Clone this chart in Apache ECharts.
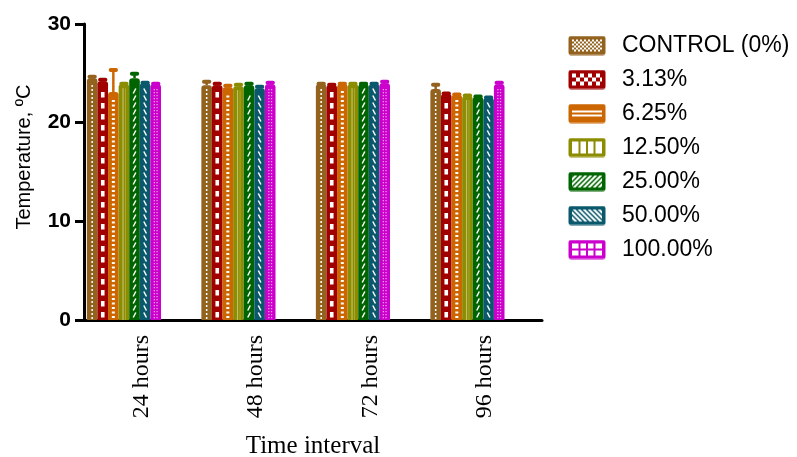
<!DOCTYPE html>
<html>
<head>
<meta charset="utf-8">
<script src="https://cdn.jsdelivr.net/npm/echarts@6.0.0/dist/echarts.min.js"></script>
<style>
html,body{margin:0;padding:0;background:#fff;}
#chart{width:797px;height:457px;}
</style>
</head>
<body>
<div id="chart"></div>
<script>
// ---- data ----
const categories = ['24 hours', '48 hours', '72 hours', '96 hours'];
const seriesNames = ['CONTROL (0%)', '3.13%', '6.25%', '12.50%', '25.00%', '50.00%', '100.00%'];
const meanControl = [24.5, 23.8, 23.9, 23.4];
const mean313 = [24.2, 23.8, 23.8, 22.9];
const mean625 = [23.1, 23.6, 23.9, 22.8];
const mean1250 = [23.9, 23.7, 23.9, 22.7];
const mean25 = [24.5, 23.8, 23.9, 22.6];
const mean50 = [24.0, 23.5, 23.9, 22.5];
const mean100 = [23.9, 23.9, 24.0, 23.9];
const errControl = [0.3, 0.5, 0.2, 0.6];
const err313 = [0.3, 0.3, 0.2, 0.2];
const err625 = [2.4, 0.3, 0.2, 0.2];
const err1250 = [0.2, 0.3, 0.2, 0.2];
const err25 = [0.6, 0.3, 0.2, 0.2];
const err50 = [0.2, 0.3, 0.2, 0.2];
const err100 = [0.2, 0.3, 0.3, 0.3];
const yTicks = [0, 10, 20, 30];

const means = [meanControl, mean313, mean625, mean1250, mean25, mean50, mean100];
const errs = [errControl, err313, err625, err1250, err25, err50, err100];
const colors = ['#93621F', '#A00000', '#CC6600', '#8C8C00', '#006400', '#0A586C', '#CC00CC'];

// ---- legend icons (pattern swatches) ----
function makeIcon(s, color) {
  const W = 49, H = 20;
  const c = document.createElement('canvas');
  c.width = W; c.height = H;
  const g = c.getContext('2d');
  g.fillStyle = color;
  g.beginPath();
  if (g.roundRect) g.roundRect(0.5, 0.5, 37, 19, 2.5); else g.rect(0.5, 0.5, 37, 19);
  g.fill();
  const ix = 4, iy = 4, iw = 30, ih = 12;
  g.save();
  g.beginPath(); g.rect(ix, iy, iw, ih); g.clip();
  g.fillStyle = '#fff'; g.strokeStyle = '#fff';
  if (s === 0) {
    for (let y = iy; y < iy + ih; y += 2) for (let x = ix; x < ix + iw; x += 2)
      if (((x - ix) / 2 + (y - iy) / 2) % 2 === 0) g.fillRect(x, y, 2, 2);
  } else if (s === 1) {
    for (let r = 0; r < 3; r++) for (let k = 0; k < 8; k++)
      if ((r + k) % 2 === 0) g.fillRect(ix + k * 4, iy + r * 4, 4, 4);
  } else if (s === 2) {
    g.fillRect(ix, iy + 3, iw, 2);
    g.fillRect(ix, iy + 7, iw, 2);
  } else if (s === 3) {
    g.fillRect(ix, iy, iw, ih);
    g.fillStyle = color;
    for (let k = 1; k < 4; k++) g.fillRect(ix + k * 7.5 - 1, iy, 2, ih);
  } else if (s === 4 || s === 5) {
    g.lineWidth = 2;
    for (let x = -20; x < 50; x += 5) {
      g.beginPath();
      if (s === 4) { g.moveTo(x, iy + ih + 1); g.lineTo(x + ih + 2, iy - 1); }
      else { g.moveTo(x, iy - 1); g.lineTo(x + ih + 2, iy + ih + 1); }
      g.stroke();
    }
  } else if (s === 6) {
    g.fillRect(ix, iy, iw, ih);
    g.fillStyle = color;
    for (let k = 1; k < 4; k++) g.fillRect(ix + k * 7.5 - 1, iy, 2, ih);
    g.fillRect(ix, iy + ih / 2 - 1, iw, 2);
  }
  g.restore();
  return 'image://' + c.toDataURL();
}

// ---- bar renderer with patterns and error bars ----
function makeRender(s) {
  const color = colors[s];
  return function (params, api) {
    const i = api.value(0), v = api.value(1), e = api.value(2);
    const base = api.coord([i, 0]);
    const top = api.coord([i, v]);
    const et = api.coord([i, v + e]);
    const band = api.size([1, 0])[0];
    const bw = band * 0.0925;
    const x0 = base[0] - band * 0.475 + s * bw;
    const cx = x0 + bw / 2;
    const y0 = top[1], y1 = base[1];
    const ch = [];
    ch.push({ type: 'rect', shape: { x: x0, y: y0, width: bw, height: y1 - y0, r: [3, 3, 0, 0] }, style: { fill: color } });
    const W = '#ffffff';
    if (s === 0) {
      for (let y = y1 - 3; y > y0 + 3; y -= 4)
        ch.push({ type: 'rect', shape: { x: cx - 0.75, y: y, width: 1.5, height: 2 }, style: { fill: W } });
    } else if (s === 1) {
      for (let y = y1 - 8; y > y0 + 5; y -= 11)
        ch.push({ type: 'rect', shape: { x: cx - 1.8, y: y, width: 3.6, height: 5.5 }, style: { fill: W } });
    } else if (s === 2) {
      for (let y = y1 - 4; y > y0 + 4; y -= 4.5)
        ch.push({ type: 'rect', shape: { x: cx - 1.5, y: y, width: 3, height: 2 }, style: { fill: W } });
    } else if (s === 3) {
      ch.push({ type: 'rect', shape: { x: cx - 1.5, y: y0 + 4, width: 1.2, height: y1 - y0 - 4 }, style: { fill: 'rgba(255,255,230,0.45)' } });
      ch.push({ type: 'rect', shape: { x: cx + 1.2, y: y0 + 4, width: 0.8, height: y1 - y0 - 4 }, style: { fill: 'rgba(255,255,230,0.3)' } });
    } else if (s === 4 || s === 5) {
      for (let y = y1 - 5; y > y0 + 6; y -= 7) {
        const sh = s === 4 ? { x1: cx - 1.3, y1: y + 2.5, x2: cx + 1.3, y2: y - 2.5 } : { x1: cx - 1.3, y1: y - 2.5, x2: cx + 1.3, y2: y + 2.5 };
        ch.push({ type: 'line', shape: sh, style: { stroke: W, lineWidth: 1.5 } });
      }
    } else if (s === 6) {
      for (let y = y1 - 3; y > y0 + 4; y -= 3) {
        ch.push({ type: 'rect', shape: { x: cx - 2, y: y, width: 1.3, height: 1.3 }, style: { fill: 'rgba(255,255,255,0.6)' } });
        ch.push({ type: 'rect', shape: { x: cx + 0.7, y: y, width: 1.3, height: 1.3 }, style: { fill: 'rgba(255,255,255,0.6)' } });
      }
    }
    // error bar (upper)
    ch.push({ type: 'line', shape: { x1: cx, y1: y0, x2: cx, y2: et[1] }, style: { stroke: color, lineWidth: 2.5 } });
    ch.push({ type: 'line', shape: { x1: cx - bw * 0.25, y1: et[1] + 1.5, x2: cx + bw * 0.25, y2: et[1] + 1.5 }, style: { stroke: color, lineWidth: 4, lineCap: 'round' } });
    return { type: 'group', children: ch };
  };
}

const series = seriesNames.map((name, s) => ({
  name: name,
  type: 'custom',
  renderItem: makeRender(s),
  itemStyle: { color: colors[s] },
  encode: { x: 0, y: 1 },
  data: categories.map((c, i) => [i, means[s][i], errs[s][i]]),
  z: 2
}));

const chart = echarts.init(document.getElementById('chart'), null, { renderer: 'canvas' });
chart.setOption({
  animation: false,
  backgroundColor: '#ffffff',
  grid: { left: 84, right: 255, top: 24, bottom: 137, containLabel: false, outerBoundsMode: 'none' },
  legend: {
    orient: 'vertical',
    left: 563,
    top: 29,
    padding: 5,
    itemWidth: 49,
    itemHeight: 20,
    itemGap: 11,
    data: seriesNames.map((n, s) => ({ name: n, icon: makeIcon(s, colors[s]) })),
    textStyle: { fontFamily: 'Liberation Sans, Arial, sans-serif', fontSize: 23, color: '#000', lineHeight: 22 },
    selectedMode: false
  },
  xAxis: {
    type: 'category',
    data: categories,
    boundaryGap: true,
    name: 'Time interval',
    nameLocation: 'middle',
    nameGap: 114,
    nameTextStyle: { fontFamily: 'Liberation Serif, Times New Roman, serif', fontSize: 25, color: '#000' },
    axisLine: { lineStyle: { color: '#000', width: 3 } },
    axisTick: { alignWithLabel: true, length: 8, lineStyle: { color: '#000', width: 3 } },
    axisLabel: { rotate: 90, margin: 15, fontFamily: 'Liberation Serif, Times New Roman, serif', fontSize: 24, color: '#000' },
    splitLine: { show: false }
  },
  yAxis: {
    type: 'value',
    min: yTicks[0],
    max: yTicks[yTicks.length - 1],
    interval: 10,
    name: 'Temperature, ºC',
    nameLocation: 'middle',
    nameGap: 50,
    nameTextStyle: { fontFamily: 'Liberation Sans, Arial, sans-serif', fontSize: 20, color: '#000', padding: [0, 0, 0, 30] },
    axisLine: { show: true, lineStyle: { color: '#000', width: 3 } },
    axisTick: { show: true, length: 9, lineStyle: { color: '#000', width: 3 } },
    axisLabel: { margin: 13, fontFamily: 'Liberation Sans, Arial, sans-serif', fontSize: 21, fontWeight: 'bold', color: '#000' },
    splitLine: { show: false }
  },
  series: series
});
</script>
</body>
</html>
